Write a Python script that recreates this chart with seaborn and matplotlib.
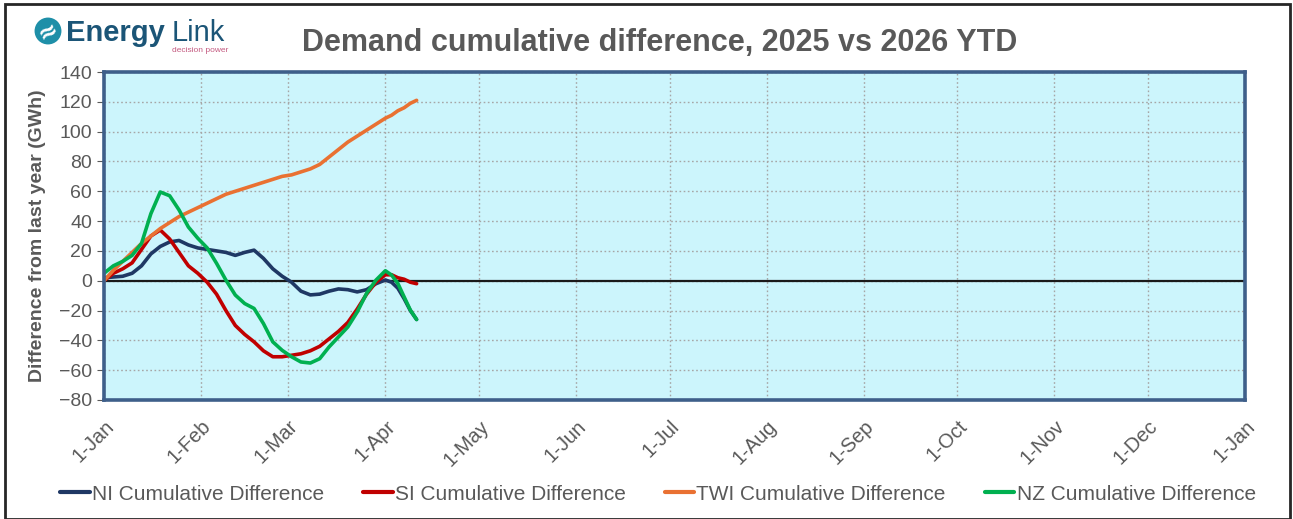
import matplotlib
matplotlib.use('Agg')
import matplotlib.pyplot as plt
import matplotlib.dates as mdates
from matplotlib.patches import Circle, Rectangle
import seaborn as sns
import pandas as pd

# days since 1 Jan 2026
days = [0, 3, 6, 9, 12, 15, 18, 21, 24, 27, 30, 33, 36, 39, 42, 45, 48, 51,
        54, 57, 60, 63, 66, 69, 72, 75, 78, 81, 84, 87, 90, 92, 94, 96, 98, 100]

ni = [2, 2.5, 3, 5, 10, 18, 23, 26, 27, 24, 22, 21, 20, 19, 17, 19, 20.5, 15,
      8, 3, -1, -7, -9.5, -9, -7, -5.5, -6, -7.5, -6, -2, 0.5, -1, -5, -12, -20, -26]
si = [0, 5, 8, 12, 21, 30, 34, 28, 19, 10, 5, -1, -9, -20, -30, -36, -41, -47,
      -51, -51, -50, -49, -47, -44, -39, -34, -28, -19, -9, -1, 4, 4, 2, 1, -1, -2]
twi = [0, 7, 13, 19, 25, 30, 35, 39, 43, 46, 49, 52, 55, 58, 60, 62, 64, 66,
       68, 70, 71, 73, 75, 78, 83, 88, 93, 97, 101, 105, 109, 111, 114, 116, 119, 121]
nz = [5, 10, 13, 17, 25, 45, 59.5, 57, 47.5, 36, 28.5, 22, 11.7, 0.4, -9.6, -15.3, -18.6, -28.7,
      -41, -46.7, -51, -54.5, -55.2, -52.3, -44.4, -37.7, -31, -21, -8.5, 0.4, 6.7, 3.8, -1.8, -10.8, -19.7, -26]

series_names = ['NI Cumulative Difference', 'SI Cumulative Difference',
                'TWI Cumulative Difference', 'NZ Cumulative Difference']
colors = ['#1F3864', '#C00000', '#E97132', '#00B050']

dates = pd.Timestamp('2026-01-01') + pd.to_timedelta(days, unit='D')
df = pd.DataFrame({'date': list(dates) * 4,
                   'value': ni + si + twi + nz,
                   'series': [n for n in series_names for _ in days]})

sns.set_style('white')
plt.rcParams['font.family'] = ['Liberation Sans', 'DejaVu Sans']
grey = '#595959'

fig = plt.figure(figsize=(12.93, 5.19), dpi=100)
ax = fig.add_axes([104 / 1293, 1 - 400 / 519, (1245 - 104) / 1293, (400 - 72) / 519])
ax.set_facecolor('#CCF5FC')

sns.lineplot(data=df, x='date', y='value', hue='series', palette=colors,
             linewidth=2.6, ax=ax, legend=True)

ax.set_xlim(pd.Timestamp('2026-01-01'), pd.Timestamp('2027-01-01'))
ax.set_ylim(-80, 140)
ax.set_yticks(range(-80, 141, 20))
ax.xaxis.set_major_locator(mdates.MonthLocator())
ax.xaxis.set_major_formatter(mdates.DateFormatter('%-d-%b'))
ax.grid(True, color='#A6A6A6', linestyle=(0, (1.2, 1.8)), linewidth=1)
ax.axhline(0, color='#1A1A1A', linewidth=1.6, zorder=1.5)

for s in ax.spines.values():
    s.set_color('#3E5F8A')
    s.set_linewidth(2.6)

ax.tick_params(axis='y', labelsize=14, labelcolor=grey, length=5, color=grey, left=True)
ax.tick_params(axis='x', labelsize=14.5, labelcolor=grey, length=0, pad=12)
plt.setp(ax.get_xticklabels(), rotation=45, ha='right', rotation_mode='anchor')
ax.set_xlabel('')
ax.set_ylabel('Difference from last year (GWh)', fontsize=14, fontweight='bold',
              color=grey, labelpad=9)

handles, labels = ax.get_legend_handles_labels()
for h in handles:
    h.set_linewidth(3)
ax.legend(handles, labels, loc='center', bbox_to_anchor=(658 / 1293, 1 - 494 / 519),
          bbox_transform=fig.transFigure, ncol=4, frameon=False, fontsize=15,
          labelcolor=grey, handlelength=1.4, handletextpad=0.1, columnspacing=1.9)

fig.text(660 / 1293, 1 - 43 / 519, 'Demand cumulative difference, 2025 vs 2026 YTD',
         ha='center', va='center', fontsize=22, fontweight='bold', color=grey)

# logo
lax = fig.add_axes([34 / 1293, 1 - 45 / 519, 28 / 1293, 28 / 519])
lax.set_xlim(0, 1)
lax.set_ylim(0, 1)
lax.axis('off')
lax.add_patch(Circle((0.5, 0.5), 0.48, facecolor='#1E8FA8', edgecolor='none'))
lax.text(0.5, 0.47, '≈', ha='center', va='center', fontsize=17, color='white',
         fontweight='bold', family='DejaVu Sans', rotation=30)
fig.text(66 / 1293, 1 - 33 / 519, 'Energy', ha='left', va='center', fontsize=21,
         color='#1B5577', fontweight='bold')
fig.text(172 / 1293, 1 - 33 / 519, 'Link', ha='left', va='center', fontsize=21,
         color='#1B5577')
fig.text(172 / 1293, 1 - 50 / 519, 'decision power', ha='left', va='center', fontsize=6,
         color='#C45A80')

fig.patches.append(Rectangle((5 / 1293, 0), 1285 / 1293, 1 - 4 / 519, transform=fig.transFigure,
                             fill=False, edgecolor='#262626', linewidth=2))

fig.savefig('out.png', dpi=100)
